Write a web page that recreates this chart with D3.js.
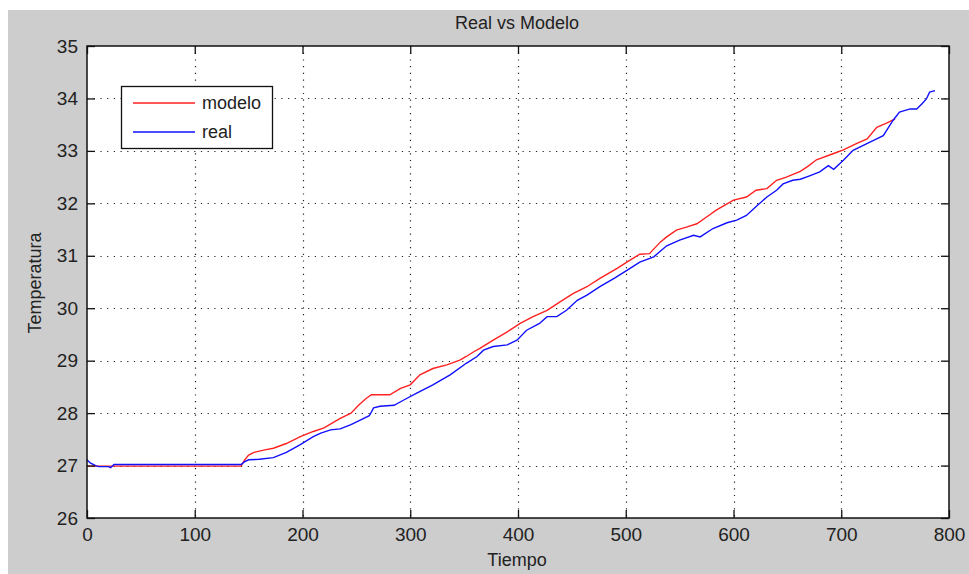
<!DOCTYPE html>
<html><head><meta charset="utf-8">
<script src="https://cdn.jsdelivr.net/npm/d3@7"></script>
<style>html,body{margin:0;padding:0;background:#fff;}svg{display:block;font-family:"Liberation Sans",Arial,sans-serif;}</style>
</head><body>
<script>
const chartTitle = "Real vs Modelo";
const xLabel = "Tiempo";
const yLabel = "Temperatura";
const xTicks = [0,100,200,300,400,500,600,700,800];
const yTicks = [26,27,28,29,30,31,32,33,34,35];
const seriesNames = ["modelo","real"];

const tModelo = [0,143,146,150,155,165,173,185,198,210,220,235,245,252,259,264,281,291,300,309,321,334,346,352,359,365,377,390,402,414,427,439,451,464,476,492,501,513,522,532,538,547,557,566,575,584,594,600,612,621,631,640,649,662,670,677,693,702,714,724,733,742,750];
const modelo = [26.99,26.99,27.1,27.2,27.25,27.3,27.33,27.42,27.55,27.65,27.72,27.9,28.0,28.15,28.28,28.35,28.35,28.47,28.54,28.73,28.85,28.92,29.01,29.08,29.17,29.24,29.39,29.55,29.71,29.84,29.96,30.12,30.28,30.41,30.57,30.76,30.88,31.03,31.04,31.26,31.36,31.49,31.55,31.61,31.74,31.87,31.99,32.06,32.12,32.25,32.28,32.44,32.5,32.61,32.72,32.83,32.95,33.02,33.14,33.23,33.45,33.53,33.61];

const tReal = [0,3,8,11,20,22,25,143,146,150,160,173,185,198,210,217,226,235,245,255,262,266,272,285,294,306,321,337,352,362,368,377,390,399,408,420,427,436,445,455,464,476,490,504,513,526,538,550,563,569,581,594,603,612,622,631,640,646,655,662,670,680,688,693,702,711,720,730,739,748,754,764,770,775,779,782,787];
const real = [27.11,27.05,27.0,26.98,26.98,26.96,27.02,27.02,27.07,27.11,27.12,27.15,27.25,27.4,27.55,27.62,27.68,27.7,27.78,27.88,27.95,28.1,28.13,28.15,28.25,28.38,28.54,28.73,28.95,29.08,29.2,29.27,29.3,29.39,29.58,29.71,29.84,29.84,29.96,30.15,30.25,30.41,30.58,30.76,30.88,30.98,31.19,31.3,31.39,31.36,31.52,31.63,31.68,31.77,31.96,32.12,32.25,32.37,32.44,32.46,32.52,32.6,32.72,32.65,32.82,33.01,33.1,33.2,33.29,33.58,33.74,33.8,33.8,33.9,33.99,34.12,34.15];

const W=969,H=574;
const L=87,R=949,T=46,B=518;
const svg=d3.select("body").append("svg").attr("width",W).attr("height",H);
svg.append("rect").attr("x",8).attr("y",10).attr("width",W-8).attr("height",H-10).attr("fill","#cdcdcd");
svg.append("rect").attr("x",L).attr("y",T).attr("width",R-L).attr("height",B-T).attr("fill","#fff");

const x=d3.scaleLinear().domain([0,800]).range([L,R]);
const y=d3.scaleLinear().domain([26,35]).range([B,T]);

// grid
const grid=svg.append("g").attr("stroke","#222").attr("stroke-width",1.2).attr("stroke-dasharray","1.2,5.5");
grid.selectAll(".gx").data(xTicks.slice(1,-1)).join("line").attr("x1",d=>Math.round(x(d))+0.5).attr("x2",d=>Math.round(x(d))+0.5).attr("y1",T).attr("y2",B);
grid.selectAll(".gy").data(yTicks.slice(1,-1)).join("line").attr("y1",d=>Math.round(y(d))+0.5).attr("y2",d=>Math.round(y(d))+0.5).attr("x1",L).attr("x2",R);

// lines
const lineM=d3.line().x((d,i)=>x(tModelo[i])).y(d=>y(d));
const lineR=d3.line().x((d,i)=>x(tReal[i])).y(d=>y(d));
svg.append("path").attr("d",lineM(modelo)).attr("fill","none").attr("stroke","#ff2020").attr("stroke-width",1.4);
svg.append("path").attr("d",lineR(real)).attr("fill","none").attr("stroke","#1010ff").attr("stroke-width",1.4);

// axes with inward ticks
const tl=8;
const fmt=d3.format("d");
const axB=svg.append("g").attr("transform",`translate(0,${B})`).call(d3.axisBottom(x).tickValues(xTicks).tickSize(-tl).tickPadding(12).tickFormat(fmt));
const axT=svg.append("g").attr("transform",`translate(0,${T})`).call(d3.axisTop(x).tickValues(xTicks).tickSize(-tl).tickFormat(""));
const axL=svg.append("g").attr("transform",`translate(${L},0)`).call(d3.axisLeft(y).tickValues(yTicks).tickSize(-tl).tickPadding(9).tickFormat(fmt));
const axRt=svg.append("g").attr("transform",`translate(${R},0)`).call(d3.axisRight(y).tickValues(yTicks).tickSize(-tl).tickFormat(""));
[axB,axT,axL,axRt].forEach(a=>{a.select(".domain").remove();a.selectAll("line").attr("stroke","#111").attr("stroke-width",1.3);a.selectAll("text").attr("fill","#222").attr("font-size",19).attr("font-family","'Liberation Sans',Arial,sans-serif");});
axB.selectAll("text").attr("dy","0.6em");
svg.append("rect").attr("x",L).attr("y",T).attr("width",R-L).attr("height",B-T).attr("fill","none").attr("stroke","#111").attr("stroke-width",1.5);

// labels
svg.append("text").attr("x",517).attr("y",29).attr("text-anchor","middle").attr("font-size",18).attr("fill","#222").text(chartTitle);
svg.append("text").attr("x",517).attr("y",566).attr("text-anchor","middle").attr("font-size",18).attr("fill","#222").text(xLabel);
svg.append("text").attr("transform","translate(41,283) rotate(-90)").attr("text-anchor","middle").attr("font-size",18).attr("fill","#222").text(yLabel);

// legend
const lg=svg.append("g");
lg.append("rect").attr("x",121.5).attr("y",86.5).attr("width",151).attr("height",62).attr("fill","#fff").attr("stroke","#111").attr("stroke-width",1.3);
const cols=["#ff2020","#1010ff"];
seriesNames.forEach((n,i)=>{
  const yy=103+i*29;
  lg.append("line").attr("x1",133).attr("x2",195).attr("y1",yy).attr("y2",yy).attr("stroke",cols[i]).attr("stroke-width",1.4);
  lg.append("text").attr("x",202).attr("y",yy+6).attr("font-size",18).attr("fill","#222").text(n);
});
</script>
</body></html>
